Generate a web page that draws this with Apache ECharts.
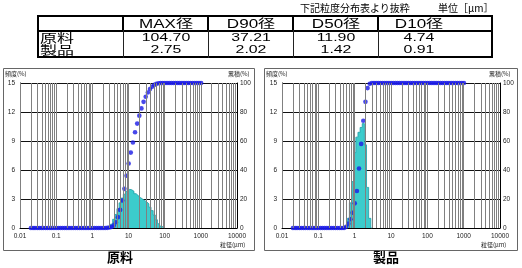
<!DOCTYPE html>
<html><head><meta charset="utf-8">
<script src="https://cdn.jsdelivr.net/npm/echarts@6/dist/echarts.min.js"></script>
<style>
html,body{margin:0;padding:0;background:#fff;}
#wrap{position:relative;width:522px;height:268px;overflow:hidden;background:#fff;}
#chart{position:absolute;left:0;top:0;width:522px;height:268px;}
.t{position:absolute;white-space:nowrap;color:#000;}
.ln{position:absolute;background:#000;}
</style>
</head><body>
<div id="wrap"><div id="chart"></div></div>
<script>
// ---- table data ----
const noteText = '下記粒度分布表より抜粋';
const unitText = '単位［μm］';
const tableHeaders = ['MAX径', 'D90径', 'D50径', 'D10径'];
const rowNames = ['原料', '製品'];
const rawStats = ['104.70', '37.21', '11.90', '4.74'];
const prodStats = ['2.75', '2.02', '1.42', '0.91'];

// ---- particle size channels (µm) ----
const sizes = [0.020, 0.023, 0.026, 0.030, 0.034, 0.039, 0.044, 0.051, 0.058, 0.067, 0.076, 0.087,
  0.100, 0.115, 0.131, 0.150, 0.172, 0.197, 0.226, 0.259, 0.296, 0.339, 0.389, 0.445, 0.510, 0.584, 0.669, 0.766, 0.877,
  1.005, 1.151, 1.318, 1.510, 1.729, 1.981, 2.269, 2.599, 2.976, 3.409, 3.905, 4.472, 5.122, 5.867, 6.720, 7.697, 8.816,
  10.097, 11.565, 13.246, 15.172, 17.377, 19.904, 22.797, 26.111, 29.907, 34.255, 39.234, 44.938, 51.471, 58.953, 67.523, 77.339, 88.583,
  101.460, 116.210, 133.103, 152.453, 174.616, 200.000, 229.075, 262.376, 300.518, 344.206, 394.244, 451.556, 517.200, 592.387, 678.504, 777.141, 890.116,
  1019.515];

// cumulative (%) per channel
const rawCum = [0,0,0,0,0,0,0,0,0,0,0,0,
  0,0,0,0,0,0,0,0,0,0,0,0,0,0,0,0,0,
  0,0,0,0,0,0,0,0.1,0.3,0.8,1.8,4.0,7.5,12.5,19.0,27.0,36.0,
  44.5,52.0,59.0,66.0,72.0,77.5,82.5,87.0,90.5,93.5,95.8,97.5,98.7,99.4,99.8,100,100,
  100,100,100,100,100,100,100,100,100,100,100,100,100,100,100,100,100,
  100];
const prodCum = [0,0,0,0,0,0,0,0,0,0,0,0,
  0,0,0,0,0,0,0,0,0,0,0,0,0,0.8,3.0,6.0,10.5,
  17.0,25.5,41.0,58.0,74.0,87.0,96.5,99.5,100,100,100,100,100,100,100,100,100,
  100,100,100,100,100,100,100,100,100,100,100,100,100,100,100,100,100,
  100,100,100,100,100,100,100,100,100,100,100,100,100,100,100,100,100,
  100];

// frequency (%) histograms
const rawHistSize = [2.599, 2.976, 3.409, 3.905, 4.472, 5.122, 5.867, 6.720, 7.697, 8.816, 10.097, 11.565, 13.246, 15.172,
  17.377, 19.904, 22.797, 26.111, 29.907, 34.255, 39.234, 44.938, 51.471, 58.953, 67.523, 77.339, 88.583, 101.460];
const rawHistFreq = [0, 0.1, 0.4, 0.9, 1.4, 2.0, 2.6, 3.1, 3.5, 3.8, 4.0, 3.95, 3.8, 3.55,
  3.35, 3.15, 3.0, 2.85, 2.7, 2.5, 2.15, 1.8, 1.35, 0.85, 0.45, 0.2, 0.05, 0];
const prodHistSize = [0.510, 0.584, 0.669, 0.766, 0.877, 1.005, 1.151, 1.318, 1.510, 1.729, 1.981, 2.269, 2.599, 2.976];
const prodHistFreq = [0, 0.2, 1.0, 2.6, 4.8, 7.8, 9.4, 9.9, 10.4, 10.8, 8.6, 4.2, 1.0, 0];

// ---- axis ticks ----
const xTickLabels = ['0.01', '0.1', '1', '10', '100', '1000', '10000'];
const gridDecades = [0.01, 0.1, 1, 10, 100, 1000];
const freqMax = 15, freqStep = 3;
const cumMax = 100, cumStep = 20;

// ---- HTML table ----
const wrap = document.getElementById('wrap');
function box(cls, css, txt) {
  const d = document.createElement('div');
  d.className = cls; d.style.cssText = css;
  if (txt !== undefined) d.textContent = txt;
  wrap.appendChild(d); return d;
}
const LAT = 'font-family:"Liberation Sans","Noto Sans CJK JP",sans-serif;';
const JP = 'font-family:"Noto Sans CJK JP",sans-serif;';
box('t', JP + 'left:300px;top:1px;font-size:10px;line-height:13px;', noteText);
box('t', JP + 'left:438px;top:1px;font-size:10px;line-height:13px;', unitText);
const TL = 37, TT = 15, TR = 493, TB = 58, HB = 30;
box('ln', `left:${TL}px;top:${TT}px;width:${TR-TL}px;height:2px;`);
box('ln', `left:${TL}px;top:${TB-2}px;width:${TR-TL}px;height:2px;`);
box('ln', `left:${TL}px;top:${TT}px;width:2px;height:${TB-TT}px;`);
box('ln', `left:${TR-2}px;top:${TT}px;width:2px;height:${TB-TT}px;`);
box('ln', `left:${TL}px;top:${HB}px;width:${TR-TL}px;height:2px;`);
const colX = [123, 208, 293, 378];
colX.forEach(x => {
  box('ln', `left:${x-1}px;top:${TT}px;width:2px;height:${HB-TT}px;`);
  box('ln', `left:${x}px;top:${HB}px;width:1px;height:${TB-HB}px;background:#222;`);
});
const colC = [165.5, 250.5, 335.5, 419];
function ctext(txt, cx, cy, size, sx, fam) {
  box('t', fam + `left:${cx}px;top:${cy}px;font-size:${size}px;line-height:${size+2}px;transform:translate(-50%,-50%) scaleX(${sx});`, txt);
}
tableHeaders.forEach((h, i) => ctext(h, colC[i], 23.5, 12, 1.42, LAT));
rawStats.forEach((v, i) => ctext(v, colC[i], 37.8, 11.5, 1.38, LAT));
prodStats.forEach((v, i) => ctext(v, colC[i], 50.3, 11.5, 1.38, LAT));
[37.8, 50.3].forEach((cy, i) => {
  box('t', JP + `left:40px;top:${cy}px;font-size:12px;line-height:14px;transform-origin:0 50%;transform:translateY(-50%) scaleX(1.42);`, rowNames[i]);
});

// ---- chart ----
const gridXs = [];
gridDecades.forEach(d => { for (let m = 1; m <= 9; m++) gridXs.push(+(d * m).toPrecision(3)); });

const FONT = '"Liberation Sans Narrow","Liberation Sans",sans-serif';
const grids = [{ left: 20, top: 83, width: 217, height: 145 }, { left: 282, top: 83, width: 218, height: 145 }];
const labelStyle = { fontSize: 6.5, color: '#222', fontFamily: FONT };

const xAxis = [], yAxis = [], series = [];
const datasets = [
  { cum: rawCum, hs: rawHistSize, hf: rawHistFreq },
  { cum: prodCum, hs: prodHistSize, hf: prodHistFreq }
];
datasets.forEach((ds, i) => {
  xAxis.push({
    type: 'log', logBase: 10, gridIndex: i, min: 0.01, max: 10000,
    axisLine: { show: true, lineStyle: { color: '#000', width: 1 } },
    axisTick: { show: false }, splitLine: { show: false },
    axisLabel: Object.assign({ margin: 5, showMinLabel: true, showMaxLabel: true, hideOverlap: false,
      formatter: v => xTickLabels[Math.round(Math.log10(v)) + 2] }, labelStyle)
  });
  yAxis.push({
    type: 'value', gridIndex: i, position: 'left', min: 0, max: freqMax, interval: freqStep,
    axisLine: { show: true, lineStyle: { color: '#000', width: 1 } },
    axisTick: { show: false },
    splitLine: { show: true, lineStyle: { color: '#111', width: 1 } },
    axisLabel: Object.assign({ margin: 5 }, labelStyle)
  });
  yAxis.push({
    type: 'value', gridIndex: i, position: 'right', min: 0, max: cumMax, interval: cumStep,
    axisLine: { show: true, lineStyle: { color: '#000', width: 1 } },
    axisTick: { show: false }, splitLine: { show: false },
    axisLabel: Object.assign({ margin: 3 }, labelStyle)
  });
  series.push({
    type: 'line', xAxisIndex: i, yAxisIndex: i * 2, data: [[0.01, 0]], symbol: 'none', silent: true,
    lineStyle: { width: 0, opacity: 0 }, z: 1,
    markLine: { silent: true, symbol: ['none', 'none'], label: { show: false }, animation: false,
      lineStyle: { color: '#808080', width: 1, type: 'solid' },
      data: gridXs.map(v => ({ xAxis: v })) }
  });
  series.push({
    type: 'line', xAxisIndex: i, yAxisIndex: i * 2, step: 'middle', symbol: 'none', z: 2,
    data: ds.hs.map((s, k) => [s, ds.hf[k]]),
    lineStyle: { color: '#1f9ea8', width: 0.8 },
    areaStyle: { color: '#3ccccc', opacity: 1 }
  });
  series.push({
    type: 'scatter', xAxisIndex: i, yAxisIndex: i * 2 + 1, z: 3, symbolSize: 4.6,
    data: sizes.map((s, k) => [s, ds.cum[k]]),
    itemStyle: { color: '#1a1ae6' }
  });
});

const small = { fontSize: 6, fill: '#222', fontFamily: '"Noto Sans CJK JP",sans-serif' };
const graphic = [];
[[3.5, 68.5, 251, 182], [264.5, 68.5, 253, 182]].forEach(f => {
  graphic.push({ type: 'rect', shape: { x: f[0], y: f[1], width: f[2], height: f[3] },
    style: { fill: 'none', stroke: '#666', lineWidth: 1 }, z: 0 });
});
[[5, 263, 228], [266, 264, 489]].forEach((p, i) => {
  graphic.push({ type: 'text', left: p[0], top: 71, style: Object.assign({ text: '頻度(%)' }, small) });
  graphic.push({ type: 'text', left: p[2], top: 71, style: Object.assign({ text: '累積(%)' }, small) });
});
graphic.push({ type: 'text', left: 220, top: 242, style: Object.assign({ text: '粒径(μm)' }, small) });
graphic.push({ type: 'text', left: 481, top: 242, style: Object.assign({ text: '粒径(μm)' }, small) });
graphic.push({ type: 'text', left: 107, top: 251, style: { text: rowNames[0], fontSize: 13, fontWeight: 'bold', fill: '#000', fontFamily: '"Noto Sans CJK JP",sans-serif' } });
graphic.push({ type: 'text', left: 373, top: 251, style: { text: rowNames[1], fontSize: 13, fontWeight: 'bold', fill: '#000', fontFamily: '"Noto Sans CJK JP",sans-serif' } });

const chart = echarts.init(document.getElementById('chart'), null, { renderer: 'canvas' });
chart.setOption({
  animation: false,
  backgroundColor: 'transparent',
  grid: grids.map(g => Object.assign({ containLabel: false, outerBoundsMode: 'none' }, g)),
  xAxis, yAxis, series, graphic
});
</script>
</body></html>
